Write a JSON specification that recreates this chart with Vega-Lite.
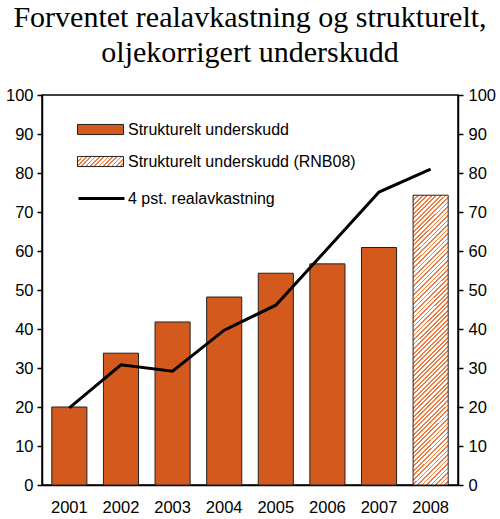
{
  "$schema": "https://vega.github.io/schema/vega-lite/v6.json",
  "autosize": {"type": "none"},
  "width": 416,
  "height": 390,
  "padding": {"left": 42, "top": 95, "right": 42, "bottom": 34},
  "background": "white",
  "title": {
    "text": ["Forventet realavkastning og strukturelt,", "oljekorrigert underskudd"],
    "font": "Liberation Serif",
    "fontSize": 30,
    "fontWeight": "normal",
    "lineHeight": 35,
    "anchor": "middle",
    "offset": 19,
    "color": "black"
  },
  "data": {
    "values": [
      {"year": "2001", "underskudd": 20.0, "serie": "Strukturelt underskudd", "realavkastning": 19.8},
      {"year": "2002", "underskudd": 33.8, "serie": "Strukturelt underskudd", "realavkastning": 30.8},
      {"year": "2003", "underskudd": 41.8, "serie": "Strukturelt underskudd", "realavkastning": 29.2},
      {"year": "2004", "underskudd": 48.2, "serie": "Strukturelt underskudd", "realavkastning": 39.7},
      {"year": "2005", "underskudd": 54.3, "serie": "Strukturelt underskudd", "realavkastning": 46.1},
      {"year": "2006", "underskudd": 56.7, "serie": "Strukturelt underskudd", "realavkastning": 60.6},
      {"year": "2007", "underskudd": 60.9, "serie": "Strukturelt underskudd", "realavkastning": 75.1},
      {"year": "2008", "underskudd": 74.3, "serie": "Strukturelt underskudd (RNB08)", "realavkastning": 81.0}
    ]
  },
  "encoding": {
    "x": {
      "field": "year",
      "type": "ordinal",
      "title": null,
      "scale": {"paddingInner": 0.32, "paddingOuter": 0.19},
      "axis": {"labelAngle": 0, "ticks": false, "labelPadding": 14}
    }
  },
  "layer": [
    {
      "mark": {"type": "bar", "stroke": "#222222", "strokeWidth": 1},
      "encoding": {
        "y": {
          "field": "underskudd",
          "type": "quantitative",
          "title": null,
          "scale": {"domain": [0, 100]},
          "axis": {"orient": "left", "values": [0, 10, 20, 30, 40, 50, 60, 70, 80, 90, 100], "labelPadding": 4}
        },
        "fill": {
          "field": "serie",
          "type": "nominal",
          "scale": {
            "domain": ["Strukturelt underskudd", "Strukturelt underskudd (RNB08)"],
            "range": [
              "#d4591c",
              {"expr": "{gradient: 'linear', x1: 0, y1: 0, x2: 1.1625, y2: 0.2527, stops: [{offset: 0, color: '#f07b3e'}, {offset: 0.0308, color: '#f07b3e'}, {offset: 0.0308, color: '#ffffff'}, {offset: 0.0769, color: '#ffffff'}, {offset: 0.0769, color: '#f07b3e'}, {offset: 0.1077, color: '#f07b3e'}, {offset: 0.1077, color: '#ffffff'}, {offset: 0.1538, color: '#ffffff'}, {offset: 0.1538, color: '#f07b3e'}, {offset: 0.1846, color: '#f07b3e'}, {offset: 0.1846, color: '#ffffff'}, {offset: 0.2308, color: '#ffffff'}, {offset: 0.2308, color: '#f07b3e'}, {offset: 0.2615, color: '#f07b3e'}, {offset: 0.2615, color: '#ffffff'}, {offset: 0.3077, color: '#ffffff'}, {offset: 0.3077, color: '#f07b3e'}, {offset: 0.3385, color: '#f07b3e'}, {offset: 0.3385, color: '#ffffff'}, {offset: 0.3846, color: '#ffffff'}, {offset: 0.3846, color: '#f07b3e'}, {offset: 0.4154, color: '#f07b3e'}, {offset: 0.4154, color: '#ffffff'}, {offset: 0.4615, color: '#ffffff'}, {offset: 0.4615, color: '#f07b3e'}, {offset: 0.4923, color: '#f07b3e'}, {offset: 0.4923, color: '#ffffff'}, {offset: 0.5385, color: '#ffffff'}, {offset: 0.5385, color: '#f07b3e'}, {offset: 0.5692, color: '#f07b3e'}, {offset: 0.5692, color: '#ffffff'}, {offset: 0.6154, color: '#ffffff'}, {offset: 0.6154, color: '#f07b3e'}, {offset: 0.6462, color: '#f07b3e'}, {offset: 0.6462, color: '#ffffff'}, {offset: 0.6923, color: '#ffffff'}, {offset: 0.6923, color: '#f07b3e'}, {offset: 0.7231, color: '#f07b3e'}, {offset: 0.7231, color: '#ffffff'}, {offset: 0.7692, color: '#ffffff'}, {offset: 0.7692, color: '#f07b3e'}, {offset: 0.8, color: '#f07b3e'}, {offset: 0.8, color: '#ffffff'}, {offset: 0.8462, color: '#ffffff'}, {offset: 0.8462, color: '#f07b3e'}, {offset: 0.8769, color: '#f07b3e'}, {offset: 0.8769, color: '#ffffff'}, {offset: 0.9231, color: '#ffffff'}, {offset: 0.9231, color: '#f07b3e'}, {offset: 0.9538, color: '#f07b3e'}, {offset: 0.9538, color: '#ffffff'}, {offset: 1, color: '#ffffff'}]}"}
            ]
          },
          "legend": {
            "title": null,
            "orient": "none",
            "legendX": 35,
            "legendY": 11,
            "padding": 0,
            "rowPadding": 0,
            "symbolType": "M-1,-0.22H1V0.22H-1Z",
            "symbolSize": 2116,
            "symbolStrokeColor": "#222222",
            "symbolStrokeWidth": 1,
            "labelFont": "Liberation Sans",
            "labelFontSize": 16,
            "labelColor": "black",
            "labelOffset": 4,
            "labelLimit": 0
          },
          "condition": {
            "test": "datum.serie === 'Strukturelt underskudd (RNB08)'",
            "value": {
              "gradient": "linear", "x1": 0, "y1": 0, "x2": 0.1333, "y2": 1.1046,
              "stops": [
                {"offset": 0, "color": "#f07b3e"}, {"offset": 0.0056, "color": "#f07b3e"}, {"offset": 0.0056, "color": "#ffffff"}, {"offset": 0.0139, "color": "#ffffff"},
                {"offset": 0.0139, "color": "#f07b3e"}, {"offset": 0.0194, "color": "#f07b3e"}, {"offset": 0.0194, "color": "#ffffff"}, {"offset": 0.0278, "color": "#ffffff"},
                {"offset": 0.0278, "color": "#f07b3e"}, {"offset": 0.0333, "color": "#f07b3e"}, {"offset": 0.0333, "color": "#ffffff"}, {"offset": 0.0417, "color": "#ffffff"},
                {"offset": 0.0417, "color": "#f07b3e"}, {"offset": 0.0472, "color": "#f07b3e"}, {"offset": 0.0472, "color": "#ffffff"}, {"offset": 0.0556, "color": "#ffffff"},
                {"offset": 0.0556, "color": "#f07b3e"}, {"offset": 0.0611, "color": "#f07b3e"}, {"offset": 0.0611, "color": "#ffffff"}, {"offset": 0.0694, "color": "#ffffff"},
                {"offset": 0.0694, "color": "#f07b3e"}, {"offset": 0.0750, "color": "#f07b3e"}, {"offset": 0.0750, "color": "#ffffff"}, {"offset": 0.0833, "color": "#ffffff"},
                {"offset": 0.0833, "color": "#f07b3e"}, {"offset": 0.0889, "color": "#f07b3e"}, {"offset": 0.0889, "color": "#ffffff"}, {"offset": 0.0972, "color": "#ffffff"},
                {"offset": 0.0972, "color": "#f07b3e"}, {"offset": 0.1028, "color": "#f07b3e"}, {"offset": 0.1028, "color": "#ffffff"}, {"offset": 0.1111, "color": "#ffffff"},
                {"offset": 0.1111, "color": "#f07b3e"}, {"offset": 0.1167, "color": "#f07b3e"}, {"offset": 0.1167, "color": "#ffffff"}, {"offset": 0.1250, "color": "#ffffff"},
                {"offset": 0.1250, "color": "#f07b3e"}, {"offset": 0.1306, "color": "#f07b3e"}, {"offset": 0.1306, "color": "#ffffff"}, {"offset": 0.1389, "color": "#ffffff"},
                {"offset": 0.1389, "color": "#f07b3e"}, {"offset": 0.1444, "color": "#f07b3e"}, {"offset": 0.1444, "color": "#ffffff"}, {"offset": 0.1528, "color": "#ffffff"},
                {"offset": 0.1528, "color": "#f07b3e"}, {"offset": 0.1583, "color": "#f07b3e"}, {"offset": 0.1583, "color": "#ffffff"}, {"offset": 0.1667, "color": "#ffffff"},
                {"offset": 0.1667, "color": "#f07b3e"}, {"offset": 0.1722, "color": "#f07b3e"}, {"offset": 0.1722, "color": "#ffffff"}, {"offset": 0.1806, "color": "#ffffff"},
                {"offset": 0.1806, "color": "#f07b3e"}, {"offset": 0.1861, "color": "#f07b3e"}, {"offset": 0.1861, "color": "#ffffff"}, {"offset": 0.1944, "color": "#ffffff"},
                {"offset": 0.1944, "color": "#f07b3e"}, {"offset": 0.2000, "color": "#f07b3e"}, {"offset": 0.2000, "color": "#ffffff"}, {"offset": 0.2083, "color": "#ffffff"},
                {"offset": 0.2083, "color": "#f07b3e"}, {"offset": 0.2139, "color": "#f07b3e"}, {"offset": 0.2139, "color": "#ffffff"}, {"offset": 0.2222, "color": "#ffffff"},
                {"offset": 0.2222, "color": "#f07b3e"}, {"offset": 0.2278, "color": "#f07b3e"}, {"offset": 0.2278, "color": "#ffffff"}, {"offset": 0.2361, "color": "#ffffff"},
                {"offset": 0.2361, "color": "#f07b3e"}, {"offset": 0.2417, "color": "#f07b3e"}, {"offset": 0.2417, "color": "#ffffff"}, {"offset": 0.2500, "color": "#ffffff"},
                {"offset": 0.2500, "color": "#f07b3e"}, {"offset": 0.2556, "color": "#f07b3e"}, {"offset": 0.2556, "color": "#ffffff"}, {"offset": 0.2639, "color": "#ffffff"},
                {"offset": 0.2639, "color": "#f07b3e"}, {"offset": 0.2694, "color": "#f07b3e"}, {"offset": 0.2694, "color": "#ffffff"}, {"offset": 0.2778, "color": "#ffffff"},
                {"offset": 0.2778, "color": "#f07b3e"}, {"offset": 0.2833, "color": "#f07b3e"}, {"offset": 0.2833, "color": "#ffffff"}, {"offset": 0.2917, "color": "#ffffff"},
                {"offset": 0.2917, "color": "#f07b3e"}, {"offset": 0.2972, "color": "#f07b3e"}, {"offset": 0.2972, "color": "#ffffff"}, {"offset": 0.3056, "color": "#ffffff"},
                {"offset": 0.3056, "color": "#f07b3e"}, {"offset": 0.3111, "color": "#f07b3e"}, {"offset": 0.3111, "color": "#ffffff"}, {"offset": 0.3194, "color": "#ffffff"},
                {"offset": 0.3194, "color": "#f07b3e"}, {"offset": 0.3250, "color": "#f07b3e"}, {"offset": 0.3250, "color": "#ffffff"}, {"offset": 0.3333, "color": "#ffffff"},
                {"offset": 0.3333, "color": "#f07b3e"}, {"offset": 0.3389, "color": "#f07b3e"}, {"offset": 0.3389, "color": "#ffffff"}, {"offset": 0.3472, "color": "#ffffff"},
                {"offset": 0.3472, "color": "#f07b3e"}, {"offset": 0.3528, "color": "#f07b3e"}, {"offset": 0.3528, "color": "#ffffff"}, {"offset": 0.3611, "color": "#ffffff"},
                {"offset": 0.3611, "color": "#f07b3e"}, {"offset": 0.3667, "color": "#f07b3e"}, {"offset": 0.3667, "color": "#ffffff"}, {"offset": 0.3750, "color": "#ffffff"},
                {"offset": 0.3750, "color": "#f07b3e"}, {"offset": 0.3806, "color": "#f07b3e"}, {"offset": 0.3806, "color": "#ffffff"}, {"offset": 0.3889, "color": "#ffffff"},
                {"offset": 0.3889, "color": "#f07b3e"}, {"offset": 0.3944, "color": "#f07b3e"}, {"offset": 0.3944, "color": "#ffffff"}, {"offset": 0.4028, "color": "#ffffff"},
                {"offset": 0.4028, "color": "#f07b3e"}, {"offset": 0.4083, "color": "#f07b3e"}, {"offset": 0.4083, "color": "#ffffff"}, {"offset": 0.4167, "color": "#ffffff"},
                {"offset": 0.4167, "color": "#f07b3e"}, {"offset": 0.4222, "color": "#f07b3e"}, {"offset": 0.4222, "color": "#ffffff"}, {"offset": 0.4306, "color": "#ffffff"},
                {"offset": 0.4306, "color": "#f07b3e"}, {"offset": 0.4361, "color": "#f07b3e"}, {"offset": 0.4361, "color": "#ffffff"}, {"offset": 0.4444, "color": "#ffffff"},
                {"offset": 0.4444, "color": "#f07b3e"}, {"offset": 0.4500, "color": "#f07b3e"}, {"offset": 0.4500, "color": "#ffffff"}, {"offset": 0.4583, "color": "#ffffff"},
                {"offset": 0.4583, "color": "#f07b3e"}, {"offset": 0.4639, "color": "#f07b3e"}, {"offset": 0.4639, "color": "#ffffff"}, {"offset": 0.4722, "color": "#ffffff"},
                {"offset": 0.4722, "color": "#f07b3e"}, {"offset": 0.4778, "color": "#f07b3e"}, {"offset": 0.4778, "color": "#ffffff"}, {"offset": 0.4861, "color": "#ffffff"},
                {"offset": 0.4861, "color": "#f07b3e"}, {"offset": 0.4917, "color": "#f07b3e"}, {"offset": 0.4917, "color": "#ffffff"}, {"offset": 0.5000, "color": "#ffffff"},
                {"offset": 0.5000, "color": "#f07b3e"}, {"offset": 0.5056, "color": "#f07b3e"}, {"offset": 0.5056, "color": "#ffffff"}, {"offset": 0.5139, "color": "#ffffff"},
                {"offset": 0.5139, "color": "#f07b3e"}, {"offset": 0.5194, "color": "#f07b3e"}, {"offset": 0.5194, "color": "#ffffff"}, {"offset": 0.5278, "color": "#ffffff"},
                {"offset": 0.5278, "color": "#f07b3e"}, {"offset": 0.5333, "color": "#f07b3e"}, {"offset": 0.5333, "color": "#ffffff"}, {"offset": 0.5417, "color": "#ffffff"},
                {"offset": 0.5417, "color": "#f07b3e"}, {"offset": 0.5472, "color": "#f07b3e"}, {"offset": 0.5472, "color": "#ffffff"}, {"offset": 0.5556, "color": "#ffffff"},
                {"offset": 0.5556, "color": "#f07b3e"}, {"offset": 0.5611, "color": "#f07b3e"}, {"offset": 0.5611, "color": "#ffffff"}, {"offset": 0.5694, "color": "#ffffff"},
                {"offset": 0.5694, "color": "#f07b3e"}, {"offset": 0.5750, "color": "#f07b3e"}, {"offset": 0.5750, "color": "#ffffff"}, {"offset": 0.5833, "color": "#ffffff"},
                {"offset": 0.5833, "color": "#f07b3e"}, {"offset": 0.5889, "color": "#f07b3e"}, {"offset": 0.5889, "color": "#ffffff"}, {"offset": 0.5972, "color": "#ffffff"},
                {"offset": 0.5972, "color": "#f07b3e"}, {"offset": 0.6028, "color": "#f07b3e"}, {"offset": 0.6028, "color": "#ffffff"}, {"offset": 0.6111, "color": "#ffffff"},
                {"offset": 0.6111, "color": "#f07b3e"}, {"offset": 0.6167, "color": "#f07b3e"}, {"offset": 0.6167, "color": "#ffffff"}, {"offset": 0.6250, "color": "#ffffff"},
                {"offset": 0.6250, "color": "#f07b3e"}, {"offset": 0.6306, "color": "#f07b3e"}, {"offset": 0.6306, "color": "#ffffff"}, {"offset": 0.6389, "color": "#ffffff"},
                {"offset": 0.6389, "color": "#f07b3e"}, {"offset": 0.6444, "color": "#f07b3e"}, {"offset": 0.6444, "color": "#ffffff"}, {"offset": 0.6528, "color": "#ffffff"},
                {"offset": 0.6528, "color": "#f07b3e"}, {"offset": 0.6583, "color": "#f07b3e"}, {"offset": 0.6583, "color": "#ffffff"}, {"offset": 0.6667, "color": "#ffffff"},
                {"offset": 0.6667, "color": "#f07b3e"}, {"offset": 0.6722, "color": "#f07b3e"}, {"offset": 0.6722, "color": "#ffffff"}, {"offset": 0.6806, "color": "#ffffff"},
                {"offset": 0.6806, "color": "#f07b3e"}, {"offset": 0.6861, "color": "#f07b3e"}, {"offset": 0.6861, "color": "#ffffff"}, {"offset": 0.6944, "color": "#ffffff"},
                {"offset": 0.6944, "color": "#f07b3e"}, {"offset": 0.7000, "color": "#f07b3e"}, {"offset": 0.7000, "color": "#ffffff"}, {"offset": 0.7083, "color": "#ffffff"},
                {"offset": 0.7083, "color": "#f07b3e"}, {"offset": 0.7139, "color": "#f07b3e"}, {"offset": 0.7139, "color": "#ffffff"}, {"offset": 0.7222, "color": "#ffffff"},
                {"offset": 0.7222, "color": "#f07b3e"}, {"offset": 0.7278, "color": "#f07b3e"}, {"offset": 0.7278, "color": "#ffffff"}, {"offset": 0.7361, "color": "#ffffff"},
                {"offset": 0.7361, "color": "#f07b3e"}, {"offset": 0.7417, "color": "#f07b3e"}, {"offset": 0.7417, "color": "#ffffff"}, {"offset": 0.7500, "color": "#ffffff"},
                {"offset": 0.7500, "color": "#f07b3e"}, {"offset": 0.7556, "color": "#f07b3e"}, {"offset": 0.7556, "color": "#ffffff"}, {"offset": 0.7639, "color": "#ffffff"},
                {"offset": 0.7639, "color": "#f07b3e"}, {"offset": 0.7694, "color": "#f07b3e"}, {"offset": 0.7694, "color": "#ffffff"}, {"offset": 0.7778, "color": "#ffffff"},
                {"offset": 0.7778, "color": "#f07b3e"}, {"offset": 0.7833, "color": "#f07b3e"}, {"offset": 0.7833, "color": "#ffffff"}, {"offset": 0.7917, "color": "#ffffff"},
                {"offset": 0.7917, "color": "#f07b3e"}, {"offset": 0.7972, "color": "#f07b3e"}, {"offset": 0.7972, "color": "#ffffff"}, {"offset": 0.8056, "color": "#ffffff"},
                {"offset": 0.8056, "color": "#f07b3e"}, {"offset": 0.8111, "color": "#f07b3e"}, {"offset": 0.8111, "color": "#ffffff"}, {"offset": 0.8194, "color": "#ffffff"},
                {"offset": 0.8194, "color": "#f07b3e"}, {"offset": 0.8250, "color": "#f07b3e"}, {"offset": 0.8250, "color": "#ffffff"}, {"offset": 0.8333, "color": "#ffffff"},
                {"offset": 0.8333, "color": "#f07b3e"}, {"offset": 0.8389, "color": "#f07b3e"}, {"offset": 0.8389, "color": "#ffffff"}, {"offset": 0.8472, "color": "#ffffff"},
                {"offset": 0.8472, "color": "#f07b3e"}, {"offset": 0.8528, "color": "#f07b3e"}, {"offset": 0.8528, "color": "#ffffff"}, {"offset": 0.8611, "color": "#ffffff"},
                {"offset": 0.8611, "color": "#f07b3e"}, {"offset": 0.8667, "color": "#f07b3e"}, {"offset": 0.8667, "color": "#ffffff"}, {"offset": 0.8750, "color": "#ffffff"},
                {"offset": 0.8750, "color": "#f07b3e"}, {"offset": 0.8806, "color": "#f07b3e"}, {"offset": 0.8806, "color": "#ffffff"}, {"offset": 0.8889, "color": "#ffffff"},
                {"offset": 0.8889, "color": "#f07b3e"}, {"offset": 0.8944, "color": "#f07b3e"}, {"offset": 0.8944, "color": "#ffffff"}, {"offset": 0.9028, "color": "#ffffff"},
                {"offset": 0.9028, "color": "#f07b3e"}, {"offset": 0.9083, "color": "#f07b3e"}, {"offset": 0.9083, "color": "#ffffff"}, {"offset": 0.9167, "color": "#ffffff"},
                {"offset": 0.9167, "color": "#f07b3e"}, {"offset": 0.9222, "color": "#f07b3e"}, {"offset": 0.9222, "color": "#ffffff"}, {"offset": 0.9306, "color": "#ffffff"},
                {"offset": 0.9306, "color": "#f07b3e"}, {"offset": 0.9361, "color": "#f07b3e"}, {"offset": 0.9361, "color": "#ffffff"}, {"offset": 0.9444, "color": "#ffffff"},
                {"offset": 0.9444, "color": "#f07b3e"}, {"offset": 0.9500, "color": "#f07b3e"}, {"offset": 0.9500, "color": "#ffffff"}, {"offset": 0.9583, "color": "#ffffff"},
                {"offset": 0.9583, "color": "#f07b3e"}, {"offset": 0.9639, "color": "#f07b3e"}, {"offset": 0.9639, "color": "#ffffff"}, {"offset": 0.9722, "color": "#ffffff"},
                {"offset": 0.9722, "color": "#f07b3e"}, {"offset": 0.9778, "color": "#f07b3e"}, {"offset": 0.9778, "color": "#ffffff"}, {"offset": 0.9861, "color": "#ffffff"},
                {"offset": 0.9861, "color": "#f07b3e"}, {"offset": 0.9917, "color": "#f07b3e"}, {"offset": 0.9917, "color": "#ffffff"}, {"offset": 1, "color": "#ffffff"}
              ]
            }
          }
        }
      }
    },
    {
      "mark": {"type": "line", "color": "black", "strokeWidth": 3},
      "encoding": {
        "y": {
          "field": "realavkastning",
          "type": "quantitative",
          "title": null,
          "scale": {"domain": [0, 100]},
          "axis": {"orient": "right", "values": [0, 10, 20, 30, 40, 50, 60, 70, 80, 90, 100], "labelPadding": 5}
        },
        "stroke": {
          "datum": "4 pst. realavkastning",
          "type": "nominal",
          "scale": {"range": ["black"]},
          "legend": {
            "title": null,
            "orient": "none",
            "legendX": 35,
            "legendY": 79,
            "padding": 0,
            "symbolType": "stroke",
            "symbolSize": 2116,
            "symbolStrokeWidth": 3,
            "labelFont": "Liberation Sans",
            "labelFontSize": 16,
            "labelColor": "black",
            "labelOffset": 2,
            "labelLimit": 0
          }
        }
      }
    }
  ],
  "resolve": {"scale": {"y": "independent"}},
  "config": {
    "view": {"stroke": "black", "strokeWidth": 1.5},
    "axis": {
      "labelFont": "Liberation Sans",
      "labelFontSize": 16.5,
      "labelColor": "black",
      "domainColor": "black",
      "domainWidth": 1.5,
      "tickColor": "black",
      "tickWidth": 1.5,
      "tickSize": 5,
      "grid": false
    }
  }
}
